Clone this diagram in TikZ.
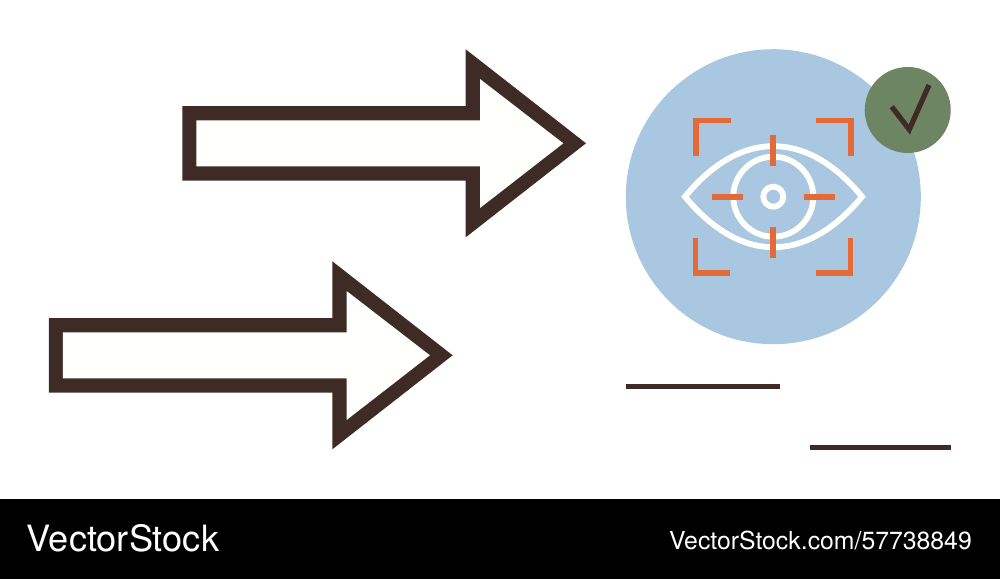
\documentclass[tikz,border=0pt]{standalone}
\usepackage{fontspec}
\setmainfont{TeX Gyre Heros}
\definecolor{brownline}{HTML}{3F2B25}
\definecolor{creamfill}{HTML}{FFFFFB}
\definecolor{skyblue}{HTML}{A9C7E0}
\definecolor{sagegreen}{HTML}{6E8563}
\definecolor{scanorange}{HTML}{E46B37}
\tikzset{
  outerarrow/.style={fill=brownline,draw=none},
  innerarrow/.style={fill=creamfill,draw=none},
  eyestroke/.style={draw=creamfill,line width=5.8pt,miter limit=10},
  scanstroke/.style={draw=scanorange,line width=5.8pt,line cap=butt,line join=miter},
  rulestroke/.style={draw=brownline,line width=5pt},
  wordmark/.style={text=white,inner sep=0pt,font=\fontsize{36.2}{40}\selectfont},
  urlmark/.style={text=white,inner sep=0pt,font=\fontsize{24.8}{28}\selectfont}
}
\begin{document}
\begin{tikzpicture}[x=1pt,y=-1pt]
\useasboundingbox (0,0) rectangle (1000,579);
\fill[white] (0,0) rectangle (1000,579);
\fill[black] (0,499) rectangle (1000,579);
% arrows
\foreach \dx/\dy in {0/0,-133.4/212}{
\begin{scope}[shift={(\dx,\dy)}]
\fill[outerarrow] (182.3,106) -- (465.7,106) -- (465.7,49.3) -- (586,143.3) -- (465.7,237.3) -- (465.7,180.7) -- (182.3,180.7) -- cycle;
\fill[innerarrow] (196.3,120.3) -- (480,120.3) -- (480,79) -- (563.3,143.3) -- (480,208) -- (480,166.3) -- (196.3,166.3) -- cycle;
\end{scope}}
% discs
\fill[skyblue] (773.3,196.7) circle (147.5);
\fill[sagegreen] (907.7,110) circle (43);
\draw[draw=brownline,line width=5.2pt,miter limit=10] (929,85) -- (909.3,129.5) -- (891.7,106.7);
% eye
\draw[eyestroke] (685,196.7) .. controls (711,165) and (741,146.2) .. (773.3,146.2) .. controls (806,146.2) and (836,165) .. (862,196.7) .. controls (836,228) and (806,247.2) .. (773.3,247.2) .. controls (741,247.2) and (711,228) .. cycle;
\draw[eyestroke] (773.3,196.7) circle (40);
\draw[eyestroke] (773.3,196.7) circle (10);
% crosshair
\draw[scanstroke] (773.3,135.3) -- (773.3,166);
\draw[scanstroke] (773.3,227) -- (773.3,258);
\draw[scanstroke] (712,196.7) -- (743,196.7);
\draw[scanstroke] (804,196.7) -- (835,196.7);
% brackets
\draw[scanstroke] (731,120.5) -- (696.1,120.5) -- (696.1,155.7);
\draw[scanstroke] (816.3,120.5) -- (851.2,120.5) -- (851.2,155.7);
\draw[scanstroke] (695.5,237.7) -- (695.5,272.9) -- (730.3,272.9);
\draw[scanstroke] (850.5,237.7) -- (850.5,272.9) -- (815.7,272.9);
% rules
\draw[rulestroke] (626,386) -- (780,386);
\draw[rulestroke] (810,447) -- (951,447);
% footer
\node[wordmark,anchor=base west] (brand) at (26.5,551) {VectorStock};
\node[urlmark,anchor=base east] (url) at (972,549) {VectorStock.com/57738849};
\end{tikzpicture}
\end{document}
